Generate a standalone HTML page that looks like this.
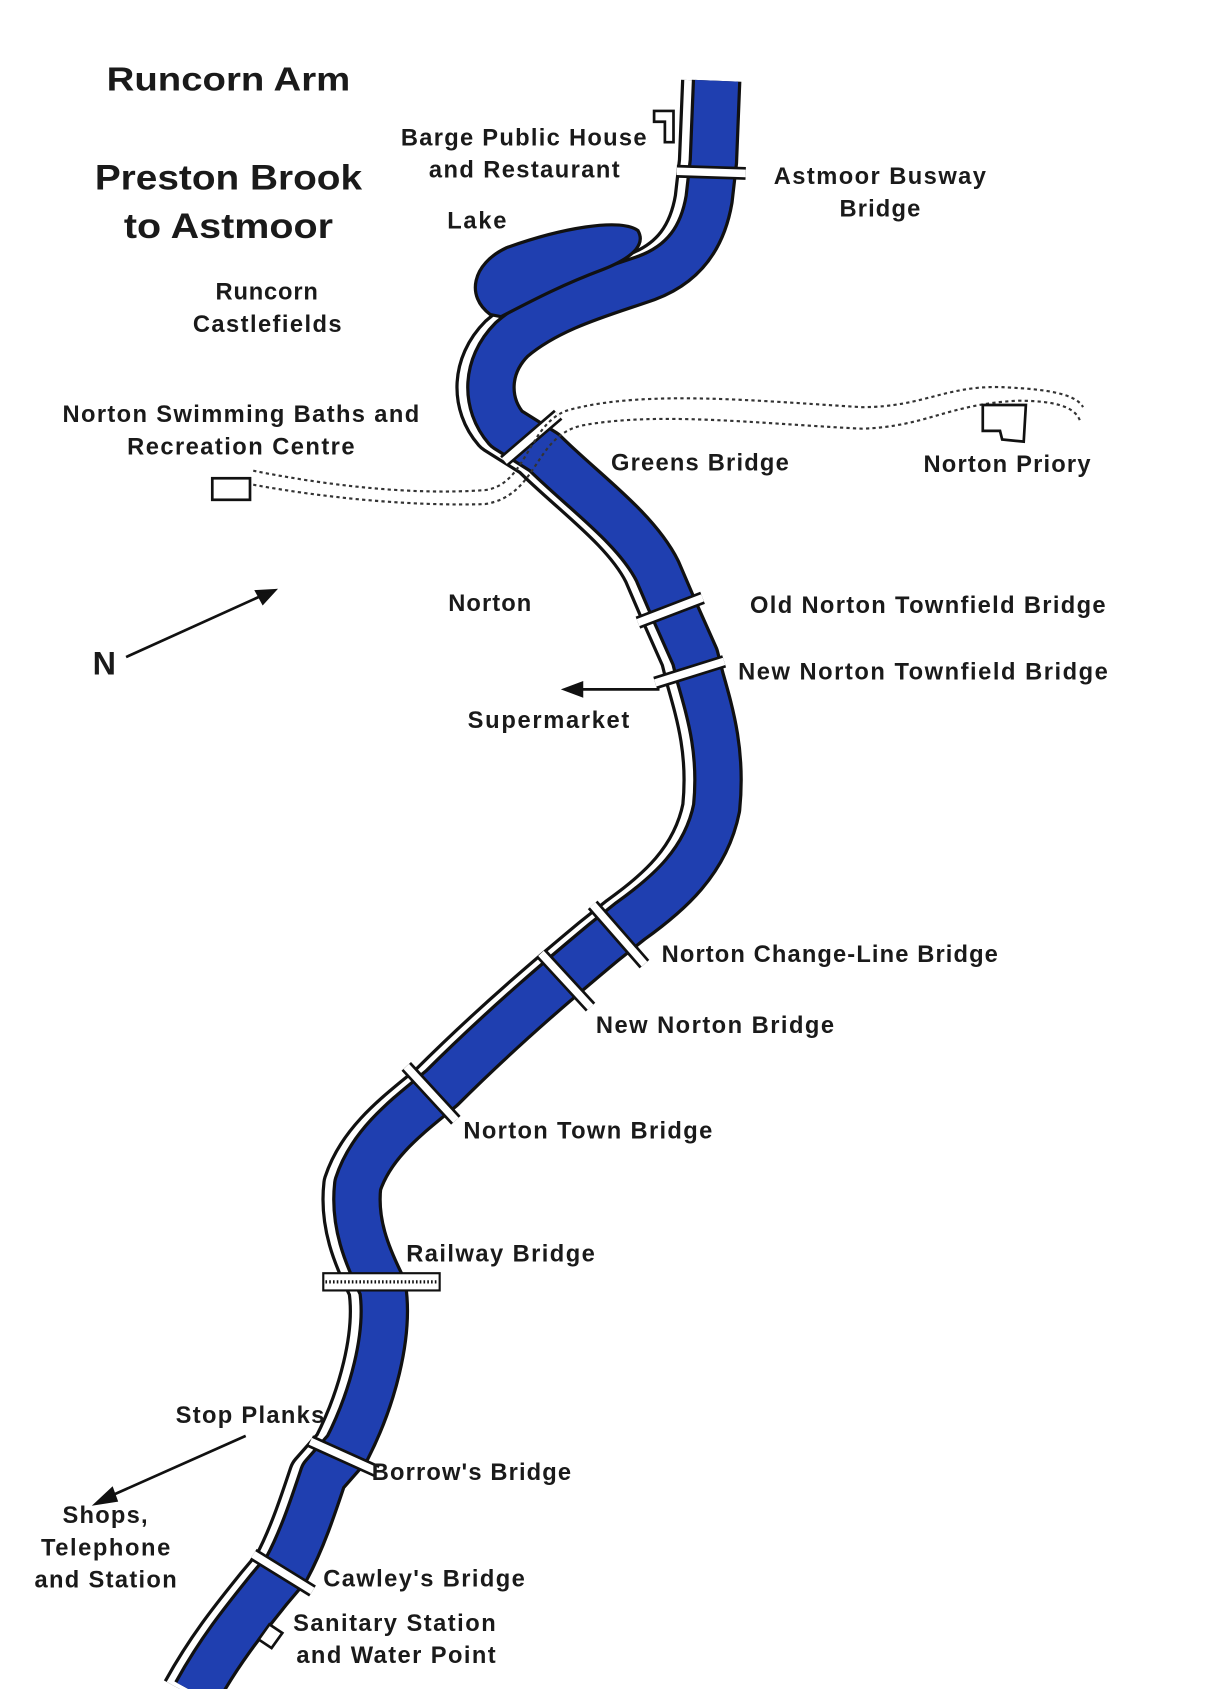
<!DOCTYPE html>
<html><head><meta charset="utf-8"><style>
html,body{margin:0;padding:0;background:#fff}
svg{display:block}
text{font-family:"Liberation Sans",sans-serif;font-weight:bold;fill:#1a1a1a}
</style></head><body>
<svg width="1222" height="1689" viewBox="0 0 1134 1568" preserveAspectRatio="none" xmlns="http://www.w3.org/2000/svg">
<rect width="1134" height="1568" fill="#fff"/>
<defs>
<path id="c" d="M665,75 L662,150 L658,185 C652,220 635,245 600,258 C560,272 510,285 475,315 C450,340 450,375 470,398 L505,420 C540,455 590,490 610,530 L625,565 L645,610 L650,630 C660,665 670,700 665,750 C655,800 620,830 585,855 L560,875 C530,900 470,950 410,1010 C380,1035 345,1060 332,1100 C328,1135 340,1165 355,1195 C362,1240 345,1300 322,1345 L300,1370 C290,1400 280,1430 266,1456 L250,1475 C230,1500 205,1530 182,1572"/>
</defs>
<g fill="none" stroke-linejoin="round">
<use href="#c" transform="translate(-8,0)" stroke="#111" stroke-width="50"/>
<use href="#c" transform="translate(-8,0)" stroke="#fff" stroke-width="44"/>
<use href="#c" stroke="#111" stroke-width="46"/>
<use href="#c" stroke="#1f3fb0" stroke-width="40"/>
</g>
<!-- lake -->
<path d="M455,292 C432,275 438,245 470,230 C520,212 575,202 592,214 C600,228 585,240 560,250 C520,265 492,280 465,294 Z" fill="#1f3fb0" stroke="#111" stroke-width="3"/>
<!-- bridges -->
<g stroke-linecap="butt">
<g stroke="#111" stroke-width="12"><line x1="628" y1="159" x2="692" y2="161"/><line x1="468" y1="428" x2="518" y2="385"/><line x1="592" y1="578" x2="652" y2="555"/><line x1="608" y1="634" x2="672" y2="614"/><line x1="550" y1="840" x2="598" y2="895"/><line x1="502" y1="885" x2="548" y2="935"/><line x1="377" y1="990" x2="423" y2="1040"/><line x1="288" y1="1338" x2="350" y2="1366"/><line x1="235" y1="1443" x2="290" y2="1477"/></g>
<g stroke="#fff" stroke-width="7"><line x1="628" y1="159" x2="692" y2="161"/><line x1="468" y1="428" x2="518" y2="385"/><line x1="592" y1="578" x2="652" y2="555"/><line x1="608" y1="634" x2="672" y2="614"/><line x1="550" y1="840" x2="598" y2="895"/><line x1="502" y1="885" x2="548" y2="935"/><line x1="377" y1="990" x2="423" y2="1040"/><line x1="288" y1="1338" x2="350" y2="1366"/><line x1="235" y1="1443" x2="290" y2="1477"/></g>
</g>
<!-- railway bridge -->
<rect x="300" y="1182" width="108" height="16" fill="#fff" stroke="#111" stroke-width="2"/>
<line x1="302" y1="1190" x2="406" y2="1190" stroke="#111" stroke-width="3" stroke-dasharray="1.5 2"/>
<!-- dotted paths -->
<g fill="none" stroke="#333" stroke-width="2" stroke-dasharray="3 3">
<path d="M235,437 C300,450 380,460 450,455 C490,450 490,390 530,380 C600,362 700,372 800,378 C860,378 880,355 940,360 C980,362 1000,368 1005,378"/>
<path d="M235,450 C300,462 380,470 450,468 C500,460 495,405 540,395 C610,382 700,393 800,398 C860,396 880,375 945,372 C985,372 998,380 1002,390"/>
</g>
<!-- buildings -->
<g fill="#fff" stroke="#111" stroke-width="2.5">
<rect x="197" y="444" width="35" height="20"/>
<path d="M912,376 L952,376 L950,410 L930,408 L928,400 L912,400 Z"/>
<path d="M607,103 L625,103 L625,132 L617,132 L617,113 L607,113 Z"/>
<path d="M240,1522 L250,1508 L262,1516 L252,1530 Z"/>
</g>
<!-- arrows -->
<g stroke="#111" stroke-width="2.5" fill="#111">
<line x1="117" y1="610" x2="245" y2="552"/><path d="M255,548 L238,549 L244,560 Z"/>
<line x1="612" y1="640" x2="535" y2="640"/><path d="M524,640 L540,634 L540,646 Z"/>
<line x1="228" y1="1333" x2="100" y2="1390"/><path d="M89,1396 L104,1382 L108,1393 Z"/>
</g>
<text x="99" y="84" font-size="31" textLength="226" lengthAdjust="spacingAndGlyphs">Runcorn Arm</text>
<text x="88" y="176" font-size="33" textLength="248" lengthAdjust="spacingAndGlyphs">Preston Brook</text>
<text x="115" y="221" font-size="33" textLength="194" lengthAdjust="spacingAndGlyphs">to Astmoor</text>
<text x="86" y="626" font-size="30">N</text>
<g font-size="22" lengthAdjust="spacingAndGlyphs">
<text x="372" y="135" textLength="228">Barge Public House</text>
<text x="398" y="165" textLength="177">and Restaurant</text>
<text x="718" y="171" textLength="197">Astmoor Busway</text>
<text x="779" y="201" textLength="75">Bridge</text>
<text x="415" y="212" textLength="55">Lake</text>
<text x="200" y="278" textLength="95">Runcorn</text>
<text x="179" y="308" textLength="138">Castlefields</text>
<text x="58" y="392" textLength="331">Norton Swimming Baths and</text>
<text x="118" y="422" textLength="211">Recreation Centre</text>
<text x="567" y="437" textLength="165">Greens Bridge</text>
<text x="857" y="438" textLength="155">Norton Priory</text>
<text x="416" y="567" textLength="77">Norton</text>
<text x="696" y="569" textLength="330">Old Norton Townfield Bridge</text>
<text x="685" y="631" textLength="343">New Norton Townfield Bridge</text>
<text x="434" y="676" textLength="150">Supermarket</text>
<text x="614" y="893" textLength="312">Norton Change-Line Bridge</text>
<text x="553" y="959" textLength="221">New Norton Bridge</text>
<text x="430" y="1057" textLength="231">Norton Town Bridge</text>
<text x="377" y="1171" textLength="175">Railway Bridge</text>
<text x="163" y="1321" textLength="138">Stop Planks</text>
<text x="345" y="1374" textLength="185">Borrow's Bridge</text>
<text x="58" y="1414" textLength="79">Shops,</text>
<text x="38" y="1444" textLength="120">Telephone</text>
<text x="32" y="1474" textLength="132">and Station</text>
<text x="300" y="1473" textLength="187">Cawley's Bridge</text>
<text x="272" y="1514" textLength="188">Sanitary Station</text>
<text x="275" y="1544" textLength="185">and Water Point</text>
</g>
</svg>
</body></html>
